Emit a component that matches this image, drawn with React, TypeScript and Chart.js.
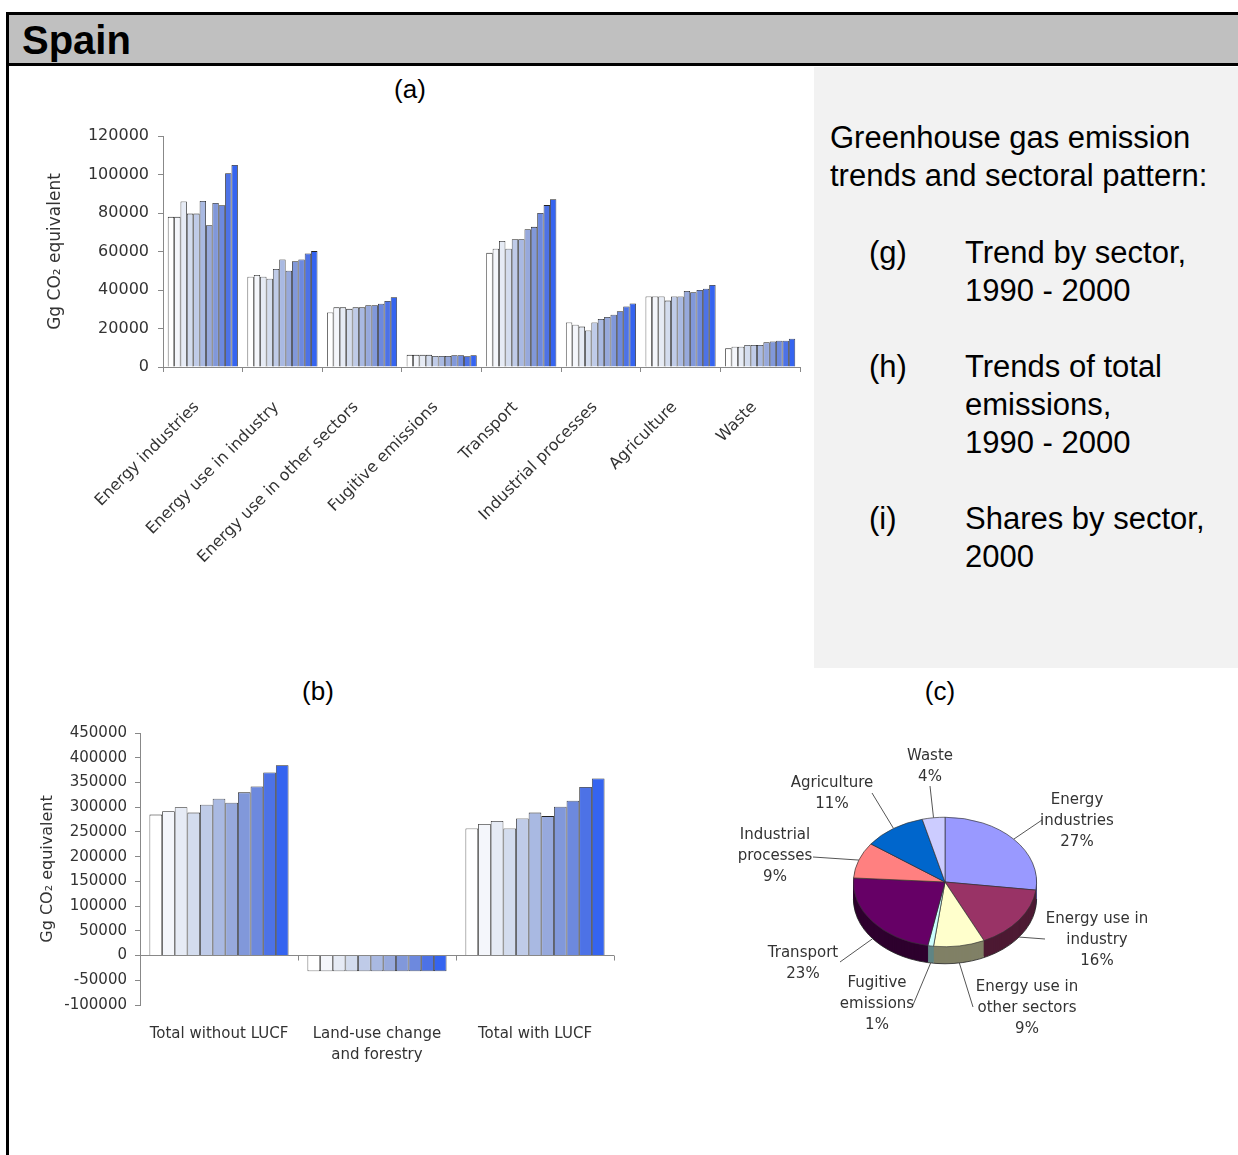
import React, { useEffect, useRef } from 'react';
import { Chart, registerables } from 'chart.js';

Chart.register(...registerables);

// ---------- DATA ----------
const YEARS = ['1990', '1991', '1992', '1993', '1994', '1995', '1996', '1997', '1998', '1999', '2000'];

const SECTORS = [
  'Energy industries',
  'Energy use in industry',
  'Energy use in other sectors',
  'Fugitive emissions',
  'Transport',
  'Industrial processes',
  'Agriculture',
  'Waste',
];

const ENERGY_INDUSTRIES = [78000, 78000, 86000, 79700, 79700, 86200, 73600, 85200, 84000, 100700, 105000];
const ENERGY_USE_INDUSTRY = [46900, 47800, 46900, 45900, 50900, 55900, 50000, 55000, 55900, 59000, 60200];
const ENERGY_OTHER_SECTORS = [28300, 31000, 31000, 30200, 31000, 31000, 32100, 32100, 32900, 34300, 36200];
const FUGITIVE_EMISSIONS = [6300, 6300, 6300, 6300, 5700, 5700, 5700, 6100, 6100, 5600, 6100];
const TRANSPORT = [59300, 61400, 65500, 61400, 66400, 66400, 71600, 72800, 80000, 84100, 87200];
const INDUSTRIAL_PROCESSES = [23100, 22000, 21000, 19000, 23100, 25000, 26000, 27200, 29000, 31400, 33000];
const AGRICULTURE = [36600, 36600, 36600, 34500, 36600, 36600, 39500, 38800, 40000, 40700, 42600];
const WASTE = [9700, 10500, 10500, 11400, 11400, 11400, 12800, 13300, 13600, 13600, 14700];

const SECTOR_SERIES = [
  ENERGY_INDUSTRIES,
  ENERGY_USE_INDUSTRY,
  ENERGY_OTHER_SECTORS,
  FUGITIVE_EMISSIONS,
  TRANSPORT,
  INDUSTRIAL_PROCESSES,
  AGRICULTURE,
  WASTE,
];

const SECTOR_TICKS = [0, 20000, 40000, 60000, 80000, 100000, 120000];

const TOTAL_CATEGORIES: (string | string[])[] = [
  'Total without LUCF',
  ['Land-use change', 'and forestry'],
  'Total with LUCF',
];
const TOTAL_WITHOUT_LUCF = [285000, 292000, 300000, 289000, 305000, 317000, 309000, 330000, 342000, 370000, 385000];
const LAND_USE_CHANGE = [-32000, -32000, -32000, -32000, -32000, -32000, -32000, -32000, -32000, -32000, -32000];
const TOTAL_WITH_LUCF = [257000, 266000, 272000, 257000, 277000, 289000, 282000, 301000, 313000, 341000, 358000];
const TOTAL_SERIES = [TOTAL_WITHOUT_LUCF, LAND_USE_CHANGE, TOTAL_WITH_LUCF];

const PIE_SECTORS = SECTORS;
const PIE_SHARES = [27, 16, 9, 1, 23, 9, 11, 4];
const PIE_NAME_LINES = [
  ['Energy', 'industries'],
  ['Energy use in', 'industry'],
  ['Energy use in', 'other sectors'],
  ['Fugitive', 'emissions'],
  ['Transport'],
  ['Industrial', 'processes'],
  ['Agriculture'],
  ['Waste'],
];

// ---------- STYLE ----------
const YEAR_COLORS = [
  '#ffffff', '#f4f6fb', '#e6ebf5', '#d3dcee', '#bfcbe8', '#a9b9e2',
  '#97a9dc', '#8198da', '#6d89de', '#4d72e6', '#3564f0',
];
const PIE_COLORS = ['#9999ff', '#993366', '#ffffcc', '#ccffff', '#660066', '#ff8080', '#0066cc', '#ccccff'];
const PIE_SIDE_COLORS = ['#4d4d80', '#4d1a33', '#808066', '#5f8585', '#2e002e', '#804040', '#003366', '#666680'];
const PIE_TILT = 0.707;
const PIE_DEPTH = 17;
// label layout relative to pie centre: text centre x, first line centre y, leader anchor x/y
const PIE_LABEL_LAYOUT = [
  { tx: 132, ty: -82, ax: 97, ay: -62 },
  { tx: 152, ty: 37, ax: 100, ay: 57 },
  { tx: 82, ty: 105, ax: 28, ay: 125 },
  { tx: -68, ty: 101, ax: -32, ay: 123 },
  { tx: -142, ty: 71, ax: -105, ay: 80 },
  { tx: -170, ty: -47, ax: -132, ay: -25 },
  { tx: -113, ty: -99, ax: -73, ay: -89 },
  { tx: -15, ty: -126, ax: -15, ay: -96 },
];

const CHART_FONT = 'DejaVu Sans';
const TEXT_COLOR = '#333';
const AXIS_COLOR = '#888';

// ---------- CHART (a) ----------
function SectorChart() {
  const ref = useRef<HTMLCanvasElement>(null);
  useEffect(() => {
    const chart = new Chart(ref.current!, {
      type: 'bar',
      data: {
        labels: SECTORS,
        datasets: YEARS.map((y, j) => ({
          label: y,
          data: SECTOR_SERIES.map((s) => s[j]),
          backgroundColor: YEAR_COLORS[j],
          borderColor: '#222',
          borderWidth: 0.8,
          barPercentage: 1,
          categoryPercentage: 0.88,
        })),
      },
      options: {
        responsive: false,
        animation: false,
        layout: { padding: { top: 36, right: 20, left: 0, bottom: 0 } },
        plugins: { legend: { display: false }, tooltip: { enabled: false } },
        scales: {
          x: {
            grid: { display: true, drawOnChartArea: false, tickLength: 5, color: AXIS_COLOR },
            border: { color: AXIS_COLOR },
            ticks: {
              minRotation: 45,
              maxRotation: 45,
              autoSkip: false,
              padding: 26,
              labelOffset: -6,
              color: TEXT_COLOR,
              font: { family: CHART_FONT, size: 16 },
            },
            afterFit: (s: any) => { s.height = 253; },
          },
          y: {
            min: SECTOR_TICKS[0],
            max: SECTOR_TICKS[SECTOR_TICKS.length - 1],
            afterBuildTicks: (s: any) => { s.ticks = SECTOR_TICKS.map((v) => ({ value: v })); },
            ticks: {
              color: TEXT_COLOR,
              padding: 9,
              font: { family: CHART_FONT, size: 16 },
              callback: (v: any) => String(v),
            },
            grid: { drawOnChartArea: false, tickLength: 5, color: AXIS_COLOR },
            border: { color: AXIS_COLOR },
            title: {
              display: true,
              text: 'Gg CO\u2082 equivalent',
              color: TEXT_COLOR,
              font: { family: CHART_FONT, size: 17 },
              padding: { top: 45, bottom: 0 },
            },
            afterFit: (s: any) => { s.width = 163; },
          },
        },
      } as any,
    });
    return () => chart.destroy();
  }, []);
  return (
    <canvas
      ref={ref}
      width={820}
      height={520}
      style={{ position: 'absolute', left: 0, top: 100, width: 820, height: 520 }}
    />
  );
}

// ---------- CHART (b) ----------
const zeroTicksPlugin = {
  id: 'zeroTicks',
  afterDatasetsDraw(chart: any) {
    const xs = chart.scales.x;
    const ys = chart.scales.y;
    const y0 = ys.getPixelForValue(0);
    const ctx = chart.ctx;
    ctx.save();
    ctx.strokeStyle = AXIS_COLOR;
    ctx.lineWidth = 1;
    for (let i = 0; i <= TOTAL_CATEGORIES.length; i++) {
      const x = Math.round(xs.getPixelForValue(i - 0.5)) + 0.5;
      ctx.beginPath();
      ctx.moveTo(x, y0);
      ctx.lineTo(x, y0 + 5);
      ctx.stroke();
    }
    ctx.restore();
  },
};

function TotalChart() {
  const ref = useRef<HTMLCanvasElement>(null);
  useEffect(() => {
    const chart = new Chart(ref.current!, {
      type: 'bar',
      data: {
        labels: TOTAL_CATEGORIES as any,
        datasets: YEARS.map((y, j) => ({
          label: y,
          data: TOTAL_SERIES.map((s) => s[j]),
          backgroundColor: YEAR_COLORS[j],
          borderColor: '#222',
          borderWidth: 0.8,
          barPercentage: 1,
          categoryPercentage: 0.88,
        })),
      },
      options: {
        responsive: false,
        animation: false,
        layout: { padding: { top: 33, right: 26, left: 0, bottom: 0 } },
        plugins: { legend: { display: false }, tooltip: { enabled: false } },
        scales: {
          x: {
            grid: { display: false },
            border: { display: false },
            ticks: {
              autoSkip: false,
              maxRotation: 0,
              padding: 11,
              color: TEXT_COLOR,
              font: { family: CHART_FONT, size: 15, lineHeight: 1.4 },
            },
            afterFit: (s: any) => { s.height = 85; },
          },
          y: {
            min: -100000,
            max: 450000,
            ticks: {
              stepSize: 50000,
              color: TEXT_COLOR,
              padding: 8,
              font: { family: CHART_FONT, size: 15 },
              callback: (v: any) => String(v),
            },
            grid: {
              drawOnChartArea: true,
              tickLength: 5,
              tickColor: AXIS_COLOR,
              color: (c: any) => (c.tick && c.tick.value === 0 ? AXIS_COLOR : 'rgba(0,0,0,0)'),
            },
            border: { color: AXIS_COLOR },
            title: {
              display: true,
              text: 'Gg CO\u2082 equivalent',
              color: TEXT_COLOR,
              font: { family: CHART_FONT, size: 16 },
              padding: { top: 38, bottom: 0 },
            },
            afterFit: (s: any) => { s.width = 140; },
          },
        },
      } as any,
      plugins: [zeroTicksPlugin],
    });
    return () => chart.destroy();
  }, []);
  return (
    <canvas
      ref={ref}
      width={640}
      height={390}
      style={{ position: 'absolute', left: 0, top: 700, width: 640, height: 390 }}
    />
  );
}

// ---------- CHART (c) ----------
const pie3dPlugin = {
  id: 'pie3d',
  beforeDatasetsDraw(chart: any) {
    const arcs = chart.getDatasetMeta(0).data as any[];
    const ctx = chart.ctx;
    if (!arcs.length) return;
    const cx = arcs[0].x;
    const cy = arcs[0].y;
    const r = arcs[0].outerRadius;
    for (let d = PIE_DEPTH; d >= 1; d--) {
      arcs.forEach((a, i) => {
        ctx.save();
        ctx.translate(cx, cy + d);
        ctx.scale(1, PIE_TILT);
        ctx.beginPath();
        ctx.moveTo(0, 0);
        ctx.arc(0, 0, r, a.startAngle, a.endAngle);
        ctx.closePath();
        ctx.fillStyle = PIE_SIDE_COLORS[i];
        ctx.fill();
        ctx.restore();
      });
    }
    ctx.save();
    ctx.translate(cx, cy + PIE_DEPTH);
    ctx.scale(1, PIE_TILT);
    ctx.beginPath();
    ctx.arc(0, 0, r, 0, Math.PI);
    ctx.restore();
    ctx.strokeStyle = '#222';
    ctx.lineWidth = 0.8;
    ctx.stroke();
    // tilt top face
    ctx.save();
    ctx.translate(cx, cy);
    ctx.scale(1, PIE_TILT);
    ctx.translate(-cx, -cy);
  },
  afterDatasetsDraw(chart: any) {
    const ctx = chart.ctx;
    ctx.restore();
    const arcs = chart.getDatasetMeta(0).data as any[];
    if (!arcs.length) return;
    const cx = arcs[0].x;
    const cy = arcs[0].y;
    const r = arcs[0].outerRadius;
    ctx.save();
    ctx.font = `15px "${CHART_FONT}"`;
    ctx.fillStyle = TEXT_COLOR;
    ctx.textAlign = 'center';
    ctx.textBaseline = 'middle';
    arcs.forEach((a, i) => {
      const mid = (a.startAngle + a.endAngle) / 2;
      const sx = cx + r * Math.cos(mid);
      const sy = cy + PIE_TILT * r * Math.sin(mid) + (Math.sin(mid) > 0.05 ? PIE_DEPTH : 0);
      const L = PIE_LABEL_LAYOUT[i];
      ctx.strokeStyle = '#555';
      ctx.lineWidth = 1;
      ctx.beginPath();
      ctx.moveTo(cx + L.ax, cy + L.ay);
      ctx.lineTo(sx, sy);
      ctx.stroke();
      const lines = [...PIE_NAME_LINES[i], `${PIE_SHARES[i]}%`];
      lines.forEach((t, k) => {
        ctx.fillText(t, cx + L.tx, cy + L.ty + k * 21);
      });
    });
    ctx.restore();
  },
};

function SharesChart() {
  const ref = useRef<HTMLCanvasElement>(null);
  useEffect(() => {
    const chart = new Chart(ref.current!, {
      type: 'pie',
      data: {
        labels: PIE_SECTORS,
        datasets: [
          {
            data: PIE_SHARES,
            backgroundColor: PIE_COLORS,
            borderColor: '#333',
            borderWidth: 0.8,
            clip: false,
          } as any,
        ],
      },
      options: {
        responsive: false,
        animation: false,
        layout: { padding: { left: 133, right: 153, top: 50, bottom: 86 } },
        plugins: { legend: { display: false }, tooltip: { enabled: false } },
      } as any,
      plugins: [pie3dPlugin],
    });
    return () => chart.destroy();
  }, []);
  return (
    <canvas
      ref={ref}
      width={470}
      height={320}
      style={{ position: 'absolute', left: 720, top: 740, width: 470, height: 320 }}
    />
  );
}

// ---------- PAGE ----------
function Line({ x, y, size, text, bold, center, w }: any) {
  const lh = Math.round(size * 1.2);
  return (
    <div
      style={{
        position: 'absolute',
        left: center ? x - (w || 200) / 2 : x,
        width: center ? w || 200 : undefined,
        top: y - lh / 2,
        height: lh,
        lineHeight: `${lh}px`,
        fontSize: size,
        fontWeight: bold ? 'bold' : 'normal',
        textAlign: center ? 'center' : 'left',
        whiteSpace: 'nowrap',
        color: '#000',
      }}
    >
      {text}
    </div>
  );
}

export default function App() {
  const boxLines: [number, string, string][] = [
    [252, '(g)', 'Trend by sector,'],
    [290, '', '1990 - 2000'],
    [366, '(h)', 'Trends of total'],
    [404, '', 'emissions,'],
    [442, '', '1990 - 2000'],
    [518, '(i)', 'Shares by sector,'],
    [556, '', '2000'],
  ];
  return (
    <div
      style={{
        position: 'absolute',
        left: 0,
        top: 0,
        width: 1238,
        height: 1155,
        background: '#fff',
        overflow: 'hidden',
        fontFamily: '"Liberation Sans", Arial, sans-serif',
      }}
    >
      {/* frame */}
      <div style={{ position: 'absolute', left: 6, top: 12, width: 1232, height: 3, background: '#000' }} />
      <div style={{ position: 'absolute', left: 9, top: 15, width: 1229, height: 48, background: '#c0c0c0' }} />
      <div style={{ position: 'absolute', left: 6, top: 63, width: 1232, height: 3, background: '#000' }} />
      <div style={{ position: 'absolute', left: 6, top: 12, width: 3, height: 1143, background: '#000' }} />
      <Line x={22} y={40} size={40} bold text="Spain" />

      {/* info box */}
      <div style={{ position: 'absolute', left: 814, top: 67, width: 424, height: 601, background: '#f2f2f2' }} />
      <Line x={830} y={137} size={31} text="Greenhouse gas emission" />
      <Line x={830} y={175} size={31} text="trends and sectoral pattern:" />
      {boxLines.map(([y, a, b], i) => (
        <React.Fragment key={i}>
          {a ? <Line x={869} y={y} size={31} text={a} /> : null}
          <Line x={965} y={y} size={31} text={b} />
        </React.Fragment>
      ))}

      {/* panel titles */}
      <Line x={410} y={89} size={26} center w={100} text="(a)" />
      <Line x={318} y={691} size={26} center w={100} text="(b)" />
      <Line x={940} y={691} size={26} center w={100} text="(c)" />

      <SectorChart />
      <TotalChart />
      <SharesChart />
    </div>
  );
}
